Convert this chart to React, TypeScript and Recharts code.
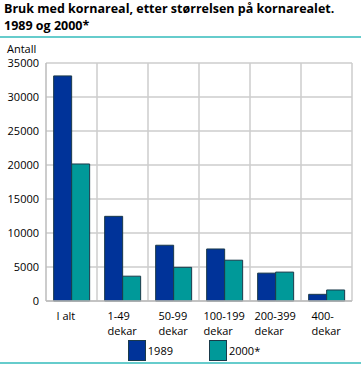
import React from 'react';
import { BarChart, Bar, XAxis, YAxis, CartesianGrid, Legend } from 'recharts';

const categories = ['I alt', '1-49 dekar', '50-99 dekar', '100-199 dekar', '200-399 dekar', '400- dekar'];
const values1989 = [33100, 12450, 8200, 7650, 4100, 980];
const values2000 = [20150, 3650, 4950, 6000, 4250, 1620];
const yTicks = [0, 5000, 10000, 15000, 20000, 25000, 30000, 35000];
const seriesNames = ['1989', '2000*'];

const data = categories.map((c, i) => ({
  name: c,
  v1989: values1989[i],
  v2000: values2000[i],
}));

const font = '"Open Sans", sans-serif';
const blue = '#003399';
const teal = '#009999';

const CategoryTick = (props: any) => {
  const { x, y, payload } = props;
  // only "dekar" goes on its own line
  const lines: string[] = String(payload.value).replace(' dekar', '\ndekar').split('\n');
  const w = Math.max(...lines.map((l) => l.length * 6));
  return (
    <text x={x - w / 2} y={y} fontSize={11} fontFamily={font} fill="#000" textAnchor="start">
      {lines.map((l, i) => (
        <tspan key={i} x={x - w / 2} dy={i === 0 ? 11 : 15}>
          {l}
        </tspan>
      ))}
    </text>
  );
};

const LegendBox = () => (
  <div style={{ display: 'flex', justifyContent: 'center', paddingLeft: 36, fontFamily: font, fontSize: 11, height: 30 }}>
    {seriesNames.map((s, i) => (
      <div key={s} style={{ display: 'flex', alignItems: 'center', marginRight: i === 0 ? 36 : 0, marginTop: 0 }}>
        <div style={{ width: 16, height: 19, background: i === 0 ? blue : teal, border: '1px solid #1a3a4a', marginRight: 2 }} />
        <span>{s}</span>
      </div>
    ))}
  </div>
);

const titleStyle: React.CSSProperties = {
  position: 'absolute',
  left: 4,
  fontFamily: font,
  fontWeight: 700,
  fontSize: 12.5,
  lineHeight: '17px',
  color: '#000',
  whiteSpace: 'nowrap',
};

export default function App() {
  return (
    <div style={{ position: 'absolute', left: 0, top: 0, width: 361, height: 365, background: '#fff' }}>
      <div style={{ ...titleStyle, top: 0 }}>Bruk med kornareal, etter størrelsen på kornarealet.</div>
      <div style={{ ...titleStyle, top: 17 }}>1989 og 2000*</div>
      <div style={{ position: 'absolute', left: 0, top: 36, width: 361, height: 2, background: '#66cccc' }} />
      <div style={{ position: 'absolute', left: 7, top: 41, fontFamily: font, fontSize: 11, color: '#000' }}>Antall</div>
      <div style={{ position: 'absolute', left: 0, top: 362, width: 361, height: 2, background: '#66cccc' }} />
      <BarChart
        width={361}
        height={365}
        data={data}
        margin={{ top: 63, right: 9, left: 0, bottom: 0 }}
        barCategoryGap="15%"
        barGap={0}
      >
        <CartesianGrid
          stroke="#cccccc"
          strokeWidth={1.5}
          verticalCoordinatesGenerator={({ offset }: any) =>
            categories.map((_, i) => offset.left + ((i + 1) * offset.width) / categories.length)
          }
        />
        <XAxis
          dataKey="name"
          interval={0}
          tick={<CategoryTick />}
          tickLine={false}
          axisLine={{ stroke: '#bbbbbb', strokeWidth: 1.5 }}
          height={34}
        />
        <YAxis
          domain={[0, 35000]}
          ticks={yTicks}
          width={46}
          tickLine={false}
          axisLine={{ stroke: '#bbbbbb', strokeWidth: 1.5 }}
          tick={{ fontSize: 11, fontFamily: font, fill: '#000' }}
          tickMargin={1}
        />
        <Legend verticalAlign="bottom" content={<LegendBox />} wrapperStyle={{ height: 30 }} />
        <Bar dataKey="v1989" name={seriesNames[0]} fill={blue} stroke="#1a3a4a" strokeWidth={1} isAnimationActive={false} />
        <Bar dataKey="v2000" name={seriesNames[1]} fill={teal} stroke="#1a3a4a" strokeWidth={1} isAnimationActive={false} />
      </BarChart>
    </div>
  );
}
